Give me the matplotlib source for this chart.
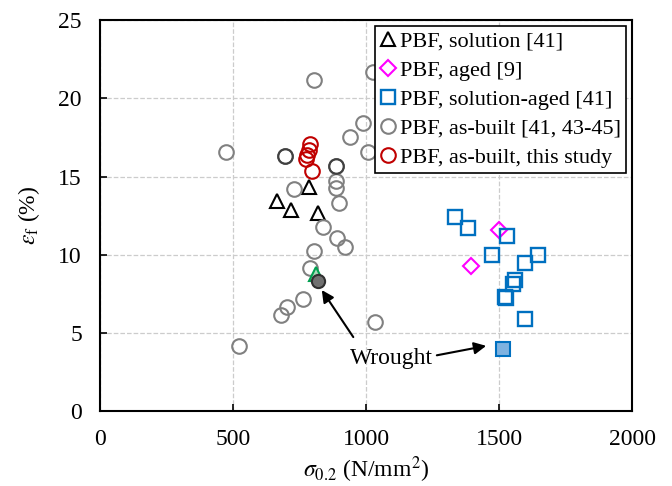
import matplotlib.pyplot as plt

plt.rcParams['font.family'] = ['Liberation Serif', 'DejaVu Serif']
plt.rcParams['mathtext.fontset'] = 'stix'
plt.rcParams['font.size'] = 17

# PBF, solution [41]
sol_x = [665, 719, 784, 819]
sol_y = [13.45, 12.85, 14.35, 12.65]
# PBF, aged [9]
aged_x = [1500, 1394]
aged_y = [11.6, 9.3]
# PBF, solution-aged [41]
sa_x = [1334, 1385, 1531, 1472, 1647, 1597, 1560, 1554, 1522, 1528, 1597]
sa_y = [12.4, 11.7, 11.2, 10.0, 10.0, 9.5, 8.4, 8.15, 7.3, 7.25, 5.9]
# PBF, as-built [41, 43-45]
ab_x = [806, 475, 694, 990, 940, 1006, 1025, 888, 888, 888, 731, 898, 840, 891,
        921, 804, 788, 765, 703, 679, 1035, 523]
ab_y = [21.2, 16.6, 16.3, 18.4, 17.5, 16.6, 21.7, 15.7, 14.7, 14.25, 14.2, 13.3,
        11.8, 11.1, 10.5, 10.25, 9.15, 7.15, 6.65, 6.15, 5.7, 4.2]
# darker as-built points (overlapping)
abd_x = [694, 888]
abd_y = [16.3, 15.7]
# PBF, as-built, this study
ts_x = [790, 784, 779, 775, 798]
ts_y = [17.05, 16.7, 16.4, 16.1, 15.35]
# wrought
wr_sol = (812, 8.8)
wr_ab = (819, 8.3)
wr_sa = (1515, 4.0)

fig = plt.figure(figsize=(6.72, 4.86), dpi=100)
ax = fig.add_axes([0.1488, 0.1535, 0.7917, 0.8053])

ms = 9.5
ax.plot(sol_x, sol_y, '^', ms=ms, mfc='none', mec='black', mew=1.5, ls='none',
        label='PBF, solution [41]')
ax.plot(aged_x, aged_y, 'D', ms=8, mfc='none', mec='#FF00FF', mew=1.5, ls='none',
        label='PBF, aged [9]')
ax.plot(sa_x, sa_y, 's', ms=ms, mfc='none', mec='#0070C0', mew=1.7, ls='none',
        label='PBF, solution-aged [41]')
ax.plot(ab_x, ab_y, 'o', ms=ms + 1, mfc='none', mec='#808080', mew=1.5, ls='none',
        label='PBF, as-built [41, 43-45]')
ax.plot(abd_x, abd_y, 'o', ms=ms + 1, mfc='none', mec='#404040', mew=1.5, ls='none')
ax.plot(ts_x, ts_y, 'o', ms=ms + 1, mfc='none', mec='#C00000', mew=1.5, ls='none',
        label='PBF, as-built, this study')

# wrought references
ax.plot(*wr_sol, '^', ms=ms, mfc='#A9D8B8', mec='#00A050', mew=1.5)
ax.plot(*wr_ab, 'o', ms=ms, mfc='#707070', mec='#303030', mew=1.5)
ax.plot(*wr_sa, 's', ms=ms, mfc='#7FB2E0', mec='#0070C0', mew=1.5)

ax.text(1095, 3.4, 'Wrought', ha='center', va='center')
arrow = dict(arrowstyle='-|>', color='black', lw=1.5, mutation_scale=18)
ax.annotate('', xy=(828, 7.9), xytext=(958, 4.6), arrowprops=arrow)
ax.annotate('', xy=(1462, 4.22), xytext=(1256, 3.55), arrowprops=arrow)

ax.set_xlim(0, 2000)
ax.set_ylim(0, 25)
ax.set_xticks([0, 500, 1000, 1500, 2000])
ax.set_yticks([0, 5, 10, 15, 20, 25])
ax.grid(True, ls='--', color='#CCCCCC', lw=0.9)
ax.set_axisbelow(True)
ax.tick_params(direction='in', length=5, width=1.2, pad=13)
for s in ax.spines.values():
    s.set_linewidth(1.5)

ax.set_xlabel(r'$\sigma_{0.2}$ (N/mm$^2$)', labelpad=3)
ax.set_ylabel(r'$\varepsilon_\mathrm{f}$ (%)', labelpad=12)

leg = ax.legend(loc='upper right', fontsize=16, handlelength=0.6, handletextpad=0.25,
                borderpad=0.25, labelspacing=0.38, borderaxespad=0.25,
                fancybox=False, edgecolor='black', framealpha=1)
leg.get_frame().set_linewidth(1.2)

fig.savefig('out.png', dpi=100)
